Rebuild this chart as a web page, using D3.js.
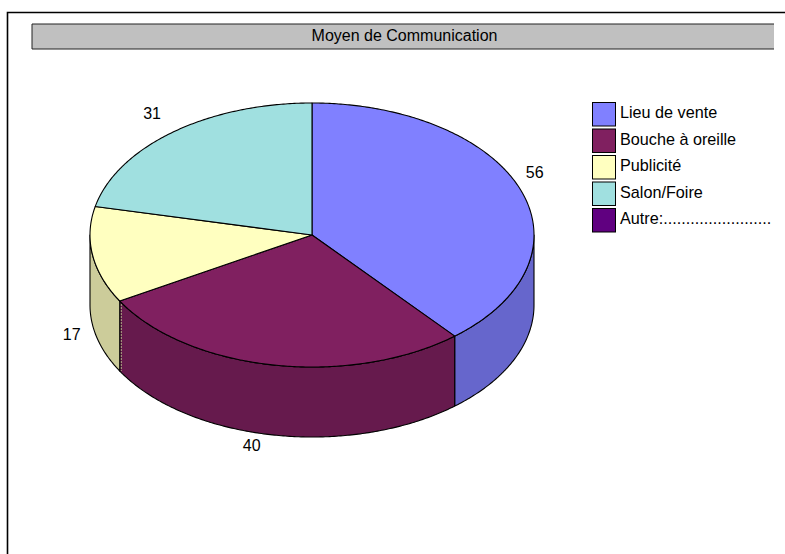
<!DOCTYPE html>
<html><head><meta charset="utf-8">
<script src="https://cdn.jsdelivr.net/npm/d3@7"></script>
<style>html,body{margin:0;padding:0;background:#fff}svg{display:block}text{font-family:"Liberation Sans",Arial,sans-serif;fill:#000}</style>
</head><body><svg id="c" width="785" height="554"></svg>
<script>
const title = "Moyen de Communication";
const categories = ["Lieu de vente","Bouche à oreille","Publicité","Salon/Foire","Autre:........................"];
const values = [56,40,17,31,0];
const topColors = ["#8080FF","#802060","#FFFFC0","#A0E0E0","#600080"];
const wallColors = ["#6666CC","#661A4D","#CCCC9A","#80B3B3","#4D0066"];

const W=785,H=554, cx=312, cy=235, rx=222, ry=132, depth=70;
const labelOffset = [[-1,-6],[-19,70],[-5,82],[-11,-1]];
const svg=d3.select("#c");

// frame, clipped by the window on right and bottom
svg.append("path").attr("d",`M7.5,${H+2}V12.5H${W+2}`).attr("fill","none").attr("stroke","#000").attr("stroke-width",1.6);

// title band
svg.append("rect").attr("x",32).attr("y",24).attr("width",742).attr("height",25).attr("fill","#C0C0C0");
svg.append("path").attr("d","M774,24H32V49H774").attr("fill","none").attr("stroke","#222").attr("stroke-width",1);
svg.append("text").attr("x",404.5).attr("y",41).attr("text-anchor","middle").attr("font-size",16).text(title);

const pie=d3.pie().sort(null).value(d=>d)(values);
const px=d3.scaleLinear().domain([-1,1]).range([cx-rx,cx+rx]);
const py=d3.scaleLinear().domain([-1,1]).range([cy-ry,cy+ry]);
const pt=(a,dz=0)=>[px(Math.sin(a)),py(-Math.cos(a))+dz];
const samples=(a0,a1)=>{const n=Math.max(2,Math.ceil((a1-a0)/0.01));return d3.range(n+1).map(i=>a0+(a1-a0)*i/n);};
const line=d3.line();

const g=svg.append("g").attr("stroke","#000").attr("stroke-width",1.1).attr("stroke-linejoin","round");
// walls
pie.forEach((s,i)=>{
  if(s.value===0) return;
  const a0=Math.max(s.startAngle,Math.PI/2), a1=Math.min(s.endAngle,3*Math.PI/2);
  if(a1<=a0) return;
  const as=samples(a0,a1);
  const pts=as.map(a=>pt(a)).concat(as.slice().reverse().map(a=>pt(a,depth)));
  g.append("path").attr("d",line(pts)+"Z").attr("fill",wallColors[i]);
});
// top faces
pie.forEach((s,i)=>{
  if(s.value===0) return;
  const pts=[[cx,cy]].concat(samples(s.startAngle,s.endAngle).map(a=>pt(a)));
  g.append("path").attr("d",line(pts)+"Z").attr("fill",topColors[i]);
});
// pale seam where the yellow wall meets the maroon wall
{
  const p=pt(pie[1].endAngle);
  svg.append("path").attr("d",`M${p[0]+1.6},${p[1]+3}V${p[1]+depth}`).attr("fill","none").attr("stroke","#B5B58A").attr("stroke-width",0.9).attr("stroke-dasharray","2 1");
}

// value labels
pie.forEach((s,i)=>{
  if(s.value===0) return;
  const m=(s.startAngle+s.endAngle)/2, p=pt(m);
  const o=labelOffset[i];
  svg.append("text").attr("class","v").attr("x",p[0]+Math.sin(m)*16+o[0]).attr("y",p[1]-Math.cos(m)*16+o[1]).attr("text-anchor","middle").attr("font-size",16).text(s.value);
});

// legend
const ly=d3.scaleLinear().domain([0,4]).range([102,208]);
categories.forEach((c,i)=>{
  svg.append("rect").attr("x",592.5).attr("y",ly(i)+.5).attr("width",23).attr("height",23.5).attr("fill",topColors[i]).attr("stroke","#000").attr("stroke-width",1);
  svg.append("text").attr("x",620).attr("y",ly(i)+16).attr("font-size",16.2).text(c);
});
</script></body></html>
